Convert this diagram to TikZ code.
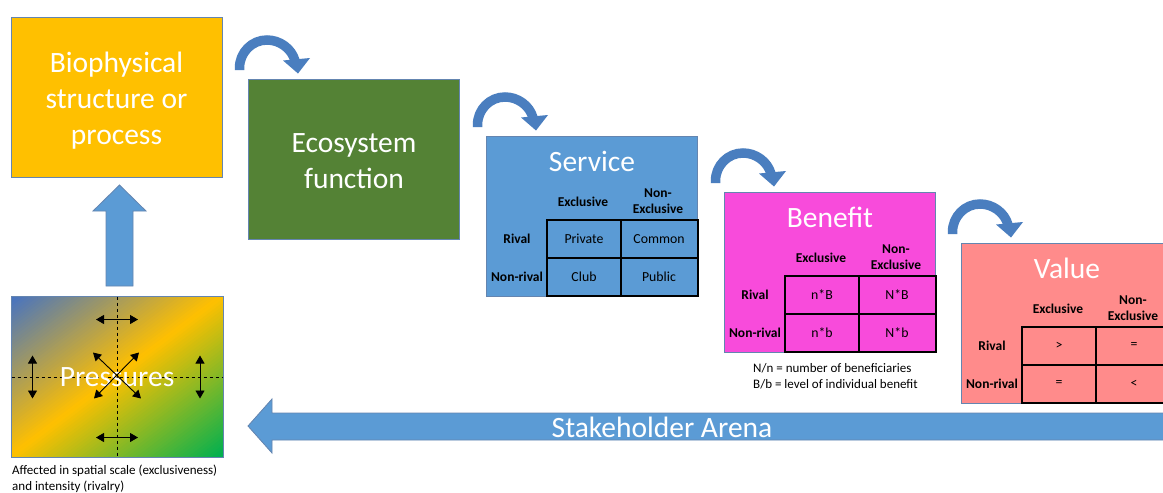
\documentclass[tikz,border=0pt]{standalone}
\usepackage{fontspec}
\setmainfont{Carlito}
\usetikzlibrary{arrows.meta}
\definecolor{orangeC}{HTML}{FFC000}
\definecolor{greenC}{HTML}{548235}
\definecolor{blueC}{HTML}{5B9BD5}
\definecolor{pinkC}{HTML}{F84BDB}
\definecolor{salmonC}{HTML}{FF8B8B}
\definecolor{boxedge}{HTML}{6485B0}
\definecolor{carrowC}{HTML}{4A7EBF}
\definecolor{pblue}{HTML}{4472C4}
\definecolor{pgreen}{HTML}{00B050}
\newcommand{\bendarrow}[1]{%
  \begin{scope}[shift={(#1.north west)}]
    \draw[carrow] (-8.5,-9) -- (-8.5,-11) .. controls (-8.5,-26.5) and (3.8,-39) .. (19,-39)
      .. controls (31.7,-39) and (43.7,-30.5) .. (47,-18.2);
    \fill[carrowC] (35,-18.5) -- (62,-21) -- (50,-5.5) -- cycle;
  \end{scope}}
\newcommand{\gtable}[7]{%
  \begin{scope}[shift={(#1.north west)}]
    \node[btitle] (#2t) at (106,25) {#3};
    \node[hdr] (#2h1) at (97,66) {Exclusive};
    \node[hdr] (#2h2) at (172,65) {Non-\\Exclusive};
    \node[hdr] (#2r1) at (31,103) {Rival};
    \node[hdr] (#2r2) at (31,141) {Non-rival};
    \draw[gridl] (61,84) rectangle (212,160) (135,84) -- (135,160) (61,122) -- (212,122);
    \node[cell] (#2c1) at (98,103) {#4};
    \node[cell] (#2c2) at (173,103) {#5};
    \node[cell] (#2c3) at (98,141) {#6};
    \node[cell] (#2c4) at (173,141) {#7};
  \end{scope}}
\begin{document}
\begin{tikzpicture}[x=1pt,y=-1pt,
  box/.style={draw=boxedge, line width=1pt, minimum width=211pt, minimum height=160pt, inner sep=0pt},
  btitle/.style={text=white, font=\fontsize{29.5}{36}\selectfont, align=center, inner sep=0pt},
  hdr/.style={font=\fontsize{13.5}{16}\selectfont\bfseries, align=center, inner sep=0pt},
  cell/.style={font=\fontsize{13.8}{16}\selectfont, inner sep=0pt},
  gridl/.style={line width=1.8pt, black},
  captext/.style={font=\fontsize{13}{16}\selectfont, align=left, inner sep=0pt, anchor=west},
  parrow/.style={line width=0.9pt, {Triangle[length=8pt,width=9pt]}-{Triangle[length=8pt,width=9pt]}},
  barrow/.style={fill=blueC, draw=boxedge, line width=0.8pt},
  carrow/.style={line width=9.5pt, color=carrowC}]
\clip (0,0) rectangle (1163,493);
\fill[white] (0,0) rectangle (1163,493);

% main boxes
\node[box, fill=orangeC] (bio) at (116.5,97) {};
\node[btitle] (biot) at ([yshift=-3.5pt]bio.center) {Biophysical\\structure or\\process};
\node[box, fill=greenC] (eco) at (354,159.5) {};
\node[btitle] (ecot) at ([yshift=-1.5pt]eco.center) {Ecosystem\\function};
\node[box, fill=blueC, anchor=north west] (svc) at (486,136) {};
\node[box, fill=pinkC, anchor=north west] (ben) at (724,192) {};
\node[box, fill=salmonC, anchor=north west, minimum width=212pt] (val) at (961,243) {};

\gtable{svc}{s}{Service}{Private}{Common}{Club}{Public}
\gtable{ben}{b}{Benefit}{n*B}{N*B}{n*b}{N*b}
\gtable{val}{v}{Value}{>}{=}{=}{<}

\node[captext] (bnote) at ([shift={(29,23)}]ben.south west) {N/n = number of beneficiaries\\B/b = level of individual benefit};

% curved arrows
\bendarrow{eco}
\bendarrow{svc}
\bendarrow{ben}
\bendarrow{val}

% pressures box with diagonal gradient
\node[box, anchor=north west] (pres) at (11,296) {};
\begin{scope}
  \clip (pres.north west) rectangle (pres.south east);
  \begin{scope}[shift={(pres.north west)}, xscale=211, yscale=160]
    \foreach \i in {0,...,89} {
      \pgfmathsetmacro\ca{2*\i/90}
      \pgfmathsetmacro\cb{2*(\i+1)/90+0.012}
      \pgfmathsetmacro\tt{(\i+0.5)/90}
      \pgfmathsetmacro\pa{min(100,200*\tt)}
      \pgfmathsetmacro\pb{max(0,200*\tt-100)}
      \fill[pgreen!\pb!orangeC!\pa!pblue] (\ca,0) -- (\cb,0) -- (\cb-2,2) -- (\ca-2,2) -- cycle;
    }
  \end{scope}
\end{scope}
\draw[boxedge, line width=1pt] (pres.north west) rectangle (pres.south east);
\begin{scope}[shift={(pres.center)}]
  \draw[dashed, line width=0.7pt] (0,-80) -- (0,80);
  \draw[dashed, line width=0.7pt] (-105.5,1) -- (105.5,1);
  \node[btitle] (prt) at (0,1) {Pressures};
  \draw[parrow] (-21,-57) -- (21,-57);
  \draw[parrow] (-21,61) -- (21,61);
  \draw[parrow] (-84.5,-21) -- (-84.5,22);
  \draw[parrow] (83,-21) -- (83,22);
  \draw[parrow] (-24,-24) -- (24,22);
  \draw[parrow] (22,-24) -- (-23,22);
\end{scope}
\node[captext] (pcap) at (12,479) {Affected in spatial scale (exclusiveness)\\and intensity (rivalry)};

% up arrow from pressures to biophysical
\draw[barrow] (119.5,185) -- (146,211) -- (133,211) -- (133,286) -- (106,286) -- (106,211) -- (93,211) -- cycle;

% stakeholder arena arrow
\draw[barrow] (248,426) -- (272,399) -- (272,413) -- (1170,413) -- (1170,440) -- (272,440) -- (272,453) -- cycle;
\node[btitle] (sa) at (662,427) {Stakeholder Arena};
\end{tikzpicture}
\end{document}
